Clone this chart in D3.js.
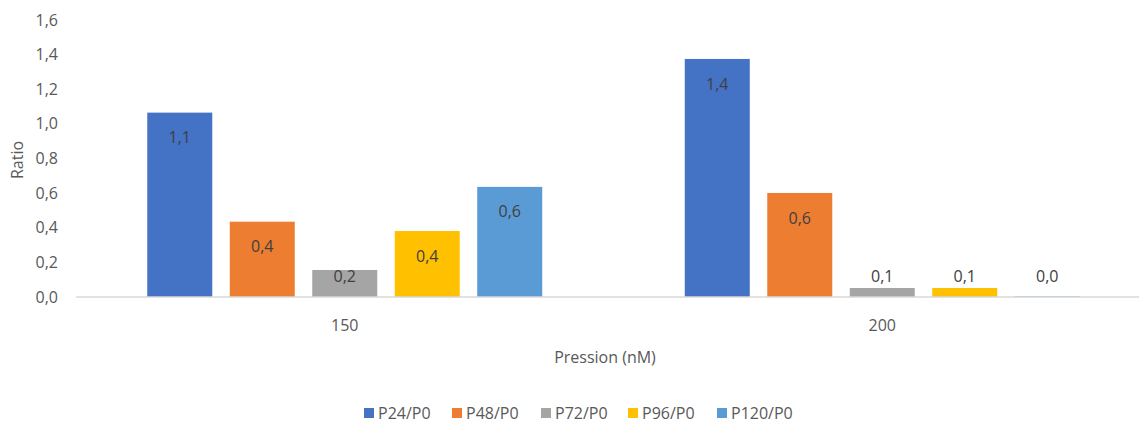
<!DOCTYPE html>
<html>
<head>
<meta charset="utf-8">
<script src="https://cdn.jsdelivr.net/npm/d3@7"></script>
<style>
  html, body { margin: 0; padding: 0; background: #fff; }
  svg { display: block; font-family: "Open Sans", Lato, sans-serif; }
</style>
</head>
<body>
<svg id="chart" width="1139" height="423"></svg>
<script>
// Pressure groups (nM) and one series per passage ratio
const groups = ["150", "200"];
const seriesNames = ["P24/P0", "P48/P0", "P72/P0", "P96/P0", "P120/P0"];
const seriesColors = ["#4472C4", "#ED7D31", "#A5A5A5", "#FFC000", "#5B9BD5"];
const p24 = [1.065, 1.375];
const p48 = [0.435, 0.601];
const p72 = [0.156, 0.052];
const p96 = [0.381, 0.052];
const p120 = [0.636, 0.004];
const yTicks = [0, 0.2, 0.4, 0.6, 0.8, 1.0, 1.2, 1.4, 1.6];

const seriesValues = [p24, p48, p72, p96, p120];
const fmt1 = v => d3.format(".1f")(v).replace(".", ",");
const fontSize = 16;

const svg = d3.select("#chart");
const width = 1139;

const y = d3.scaleLinear().domain([0, 1.6]).range([297, 20]);
const x0 = d3.scaleBand().domain(groups).range([76, 1151]).padding(0);
const x1 = d3.scaleBand().domain(seriesNames).range([0, x0.bandwidth()])
  .paddingInner(0.212).paddingOuter(0.864);

// Value axis labels
svg.append("g").selectAll("text").data(yTicks).join("text")
  .attr("x", 58).attr("y", d => y(d)).attr("dy", "0.35em")
  .attr("text-anchor", "end").attr("fill", "#595959").attr("font-size", fontSize)
  .text(fmt1);

// Bars
const cells = [];
groups.forEach((g, gi) => {
  seriesNames.forEach((s, si) => {
    cells.push({ group: g, series: s, color: seriesColors[si], value: seriesValues[si][gi] });
  });
});

svg.append("g").selectAll("rect").data(cells).join("rect")
  .attr("x", d => x0(d.group) + x1(d.series))
  .attr("width", x1.bandwidth())
  .attr("y", d => y(d.value))
  .attr("height", d => y(0) - y(d.value))
  .attr("fill", d => d.color);

// Baseline
svg.append("line")
  .attr("x1", 76).attr("x2", width).attr("y1", y(0)).attr("y2", y(0))
  .attr("stroke", "#D9D9D9").attr("stroke-width", 1.3);

// Data labels, inside the bar end and kept above the baseline
svg.append("g").selectAll("text").data(cells).join("text")
  .attr("x", d => x0(d.group) + x1(d.series) + x1.bandwidth() / 2)
  .attr("y", d => Math.min(y(d.value) + 25, 276))
  .attr("dy", "0.35em")
  .attr("text-anchor", "middle").attr("fill", "#404040").attr("font-size", fontSize)
  .text(d => fmt1(d.value));

// Category labels
svg.append("g").selectAll("text").data(groups).join("text")
  .attr("x", d => x0(d) + x0.bandwidth() / 2).attr("y", 325).attr("dy", "0.35em")
  .attr("text-anchor", "middle").attr("fill", "#595959").attr("font-size", fontSize)
  .text(d => d);

// Axis titles
svg.append("text")
  .attr("transform", "translate(17,160) rotate(-90)").attr("dy", "0.35em")
  .attr("text-anchor", "middle").attr("fill", "#595959").attr("font-size", fontSize)
  .text("Ratio");

svg.append("text")
  .attr("x", 605).attr("y", 357).attr("dy", "0.35em")
  .attr("text-anchor", "middle").attr("fill", "#595959").attr("font-size", fontSize)
  .text("Pression (nM)");

// Legend
const legendX = [364, 452, 541, 628, 717];
const legend = svg.append("g").selectAll("g").data(seriesNames).join("g")
  .attr("transform", (d, i) => `translate(${legendX[i]},413)`);
legend.append("rect").attr("x", 0).attr("y", -5).attr("width", 10).attr("height", 10)
  .attr("fill", (d, i) => seriesColors[i]);
legend.append("text").attr("x", 14).attr("dy", "0.35em")
  .attr("fill", "#595959").attr("font-size", fontSize).text(d => d);
</script>
</body>
</html>
